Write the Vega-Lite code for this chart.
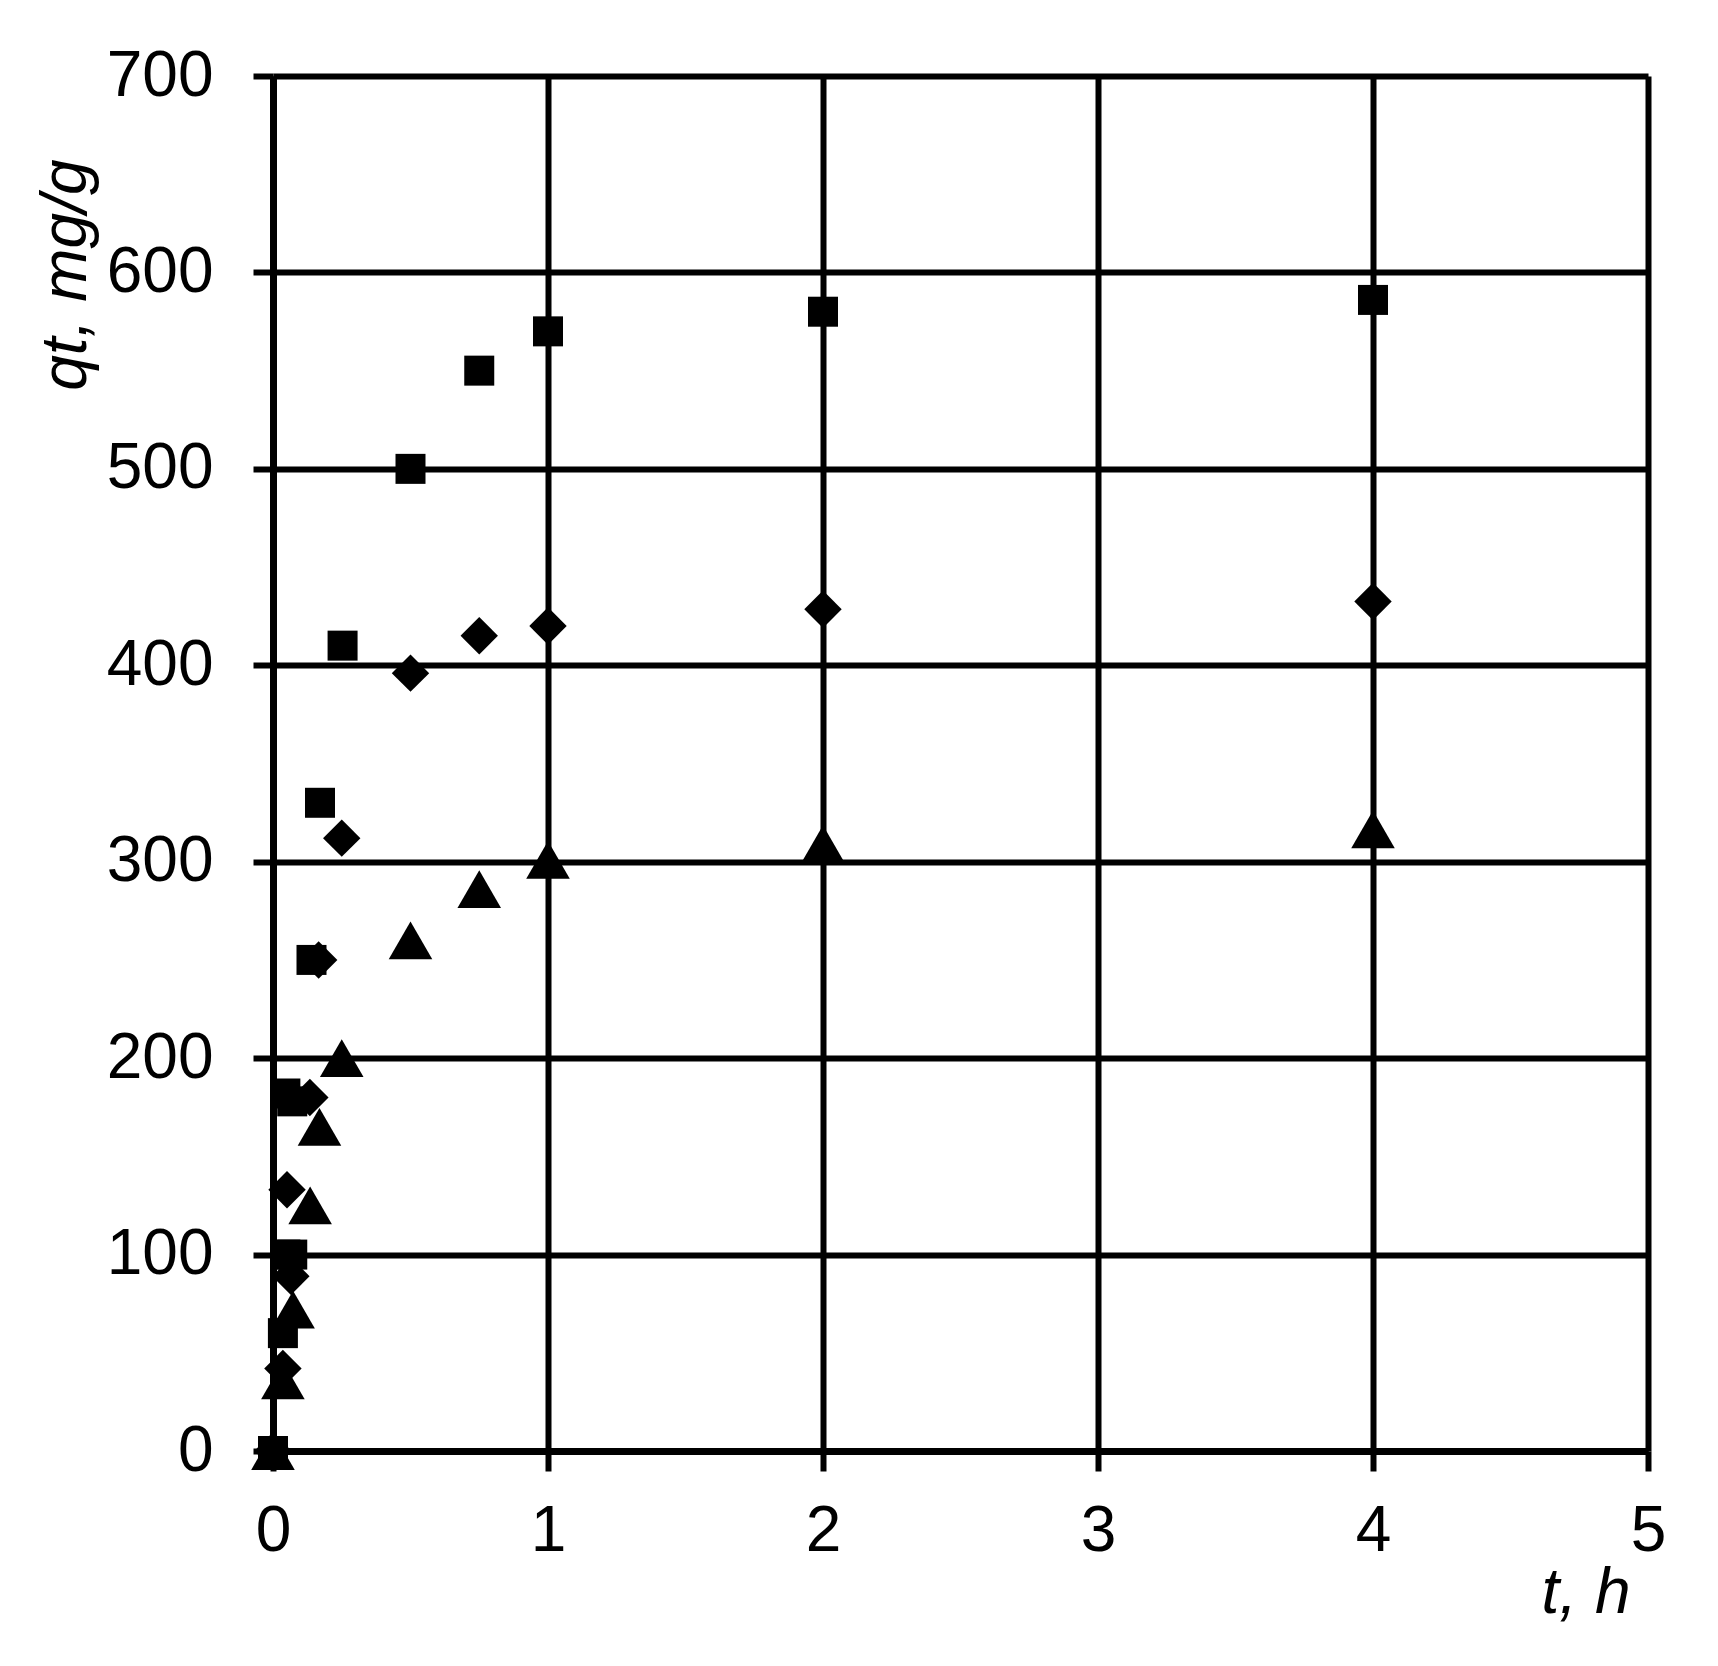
{
  "$schema": "https://vega.github.io/schema/vega-lite/v6.json",
  "autosize": "none",
  "width": 1375,
  "height": 1375,
  "padding": {"left": 273, "top": 76, "right": 70, "bottom": 215},
  "background": "white",
  "config": {
    "view": {"stroke": null},
    "font": "Liberation Sans"
  },
  "data": {
    "values": [
      {"series": "A", "t": 0, "qt": 0},
      {"series": "A", "t": 0.036, "qt": 60},
      {"series": "A", "t": 0.045, "qt": 100},
      {"series": "A", "t": 0.07, "qt": 100},
      {"series": "A", "t": 0.045, "qt": 182},
      {"series": "A", "t": 0.07, "qt": 178},
      {"series": "A", "t": 0.14, "qt": 250},
      {"series": "A", "t": 0.171, "qt": 330},
      {"series": "A", "t": 0.253, "qt": 410},
      {"series": "A", "t": 0.5, "qt": 500},
      {"series": "A", "t": 0.75, "qt": 550},
      {"series": "A", "t": 1, "qt": 570},
      {"series": "A", "t": 2, "qt": 580},
      {"series": "A", "t": 4, "qt": 586},
      {"series": "B", "t": 0, "qt": 0},
      {"series": "B", "t": 0.036, "qt": 42},
      {"series": "B", "t": 0.065, "qt": 89},
      {"series": "B", "t": 0.051, "qt": 133},
      {"series": "B", "t": 0.134, "qt": 180},
      {"series": "B", "t": 0.166, "qt": 250},
      {"series": "B", "t": 0.25, "qt": 312},
      {"series": "B", "t": 0.5, "qt": 396},
      {"series": "B", "t": 0.75, "qt": 415},
      {"series": "B", "t": 1, "qt": 420},
      {"series": "B", "t": 2, "qt": 428.5},
      {"series": "B", "t": 4, "qt": 432.5},
      {"series": "C", "t": 0, "qt": 0},
      {"series": "C", "t": 0.036, "qt": 36},
      {"series": "C", "t": 0.073, "qt": 72},
      {"series": "C", "t": 0.135, "qt": 125},
      {"series": "C", "t": 0.169, "qt": 165},
      {"series": "C", "t": 0.25, "qt": 200},
      {"series": "C", "t": 0.5, "qt": 260},
      {"series": "C", "t": 0.75, "qt": 286},
      {"series": "C", "t": 1, "qt": 301},
      {"series": "C", "t": 2, "qt": 309},
      {"series": "C", "t": 4, "qt": 316.5}
    ]
  },
  "mark": {"type": "point", "filled": true, "opacity": 1, "color": "black"},
  "encoding": {
    "x": {
      "field": "t",
      "type": "quantitative",
      "scale": {"domain": [0, 5], "nice": false, "zero": false},
      "axis": {
        "values": [0, 1, 2, 3, 4, 5],
        "title": "t, h",
        "titleFont": "Liberation Sans",
        "titleFontStyle": "italic",
        "titleFontWeight": "normal",
        "titleFontSize": 64,
        "titleColor": "black",
        "titleAlign": "right",
        "titleBaseline": "alphabetic",
        "titleAnchor": null,
        "titleX": 1357,
        "titleY": 161,
        "labelFontSize": 64,
        "labelColor": "black",
        "labelPadding": 28,
        "labelFlush": false,
        "labelOverlap": false,
        "tickSize": 20,
        "tickWidth": 6,
        "tickColor": "black",
        "domainColor": "black",
        "domainWidth": 7,
        "grid": true,
        "gridColor": "black",
        "gridWidth": 6,
        "gridOpacity": 1
      }
    },
    "y": {
      "field": "qt",
      "type": "quantitative",
      "scale": {"domain": [0, 700], "nice": false},
      "axis": {
        "values": [0, 100, 200, 300, 400, 500, 600, 700],
        "title": "qt, mg/g",
        "titleFont": "Liberation Sans",
        "titleFontStyle": "italic",
        "titleFontWeight": "normal",
        "titleFontSize": 64,
        "titleColor": "black",
        "titleAngle": 270,
        "titleAlign": "right",
        "titleBaseline": "alphabetic",
        "titleAnchor": null,
        "titleX": -188,
        "titleY": 83,
        "labelFontSize": 64,
        "labelColor": "black",
        "labelPadding": 40,
        "labelFlush": false,
        "labelOverlap": false,
        "tickSize": 20,
        "tickWidth": 6,
        "tickColor": "black",
        "domainColor": "black",
        "domainWidth": 7,
        "grid": true,
        "gridColor": "black",
        "gridWidth": 6,
        "gridOpacity": 1
      }
    },
    "shape": {
      "field": "series",
      "type": "nominal",
      "scale": {"domain": ["A", "B", "C"], "range": ["square", "diamond", "triangle-up"]},
      "legend": null
    },
    "size": {
      "field": "series",
      "type": "nominal",
      "scale": {"domain": ["A", "B", "C"], "range": [900, 1900, 1250]},
      "legend": null
    }
  }
}
